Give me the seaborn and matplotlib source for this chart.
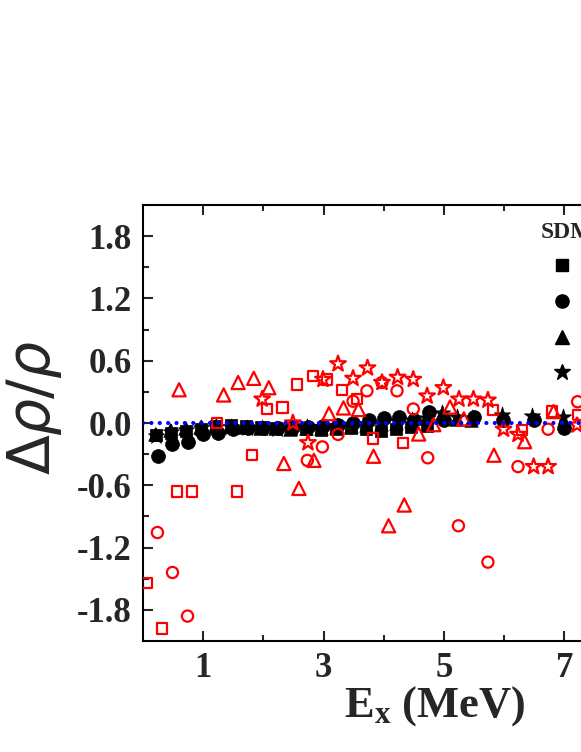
import matplotlib
matplotlib.use("Agg")
import matplotlib.pyplot as plt
import seaborn as sns
from matplotlib.lines import Line2D
from matplotlib.ticker import FixedLocator, FixedFormatter

# ---- SDM (black, filled) ----
sq_x = [0.21, 0.46, 0.71, 0.96, 1.21, 1.46, 1.71, 1.96, 2.21, 2.46, 2.71, 2.96,
        3.21, 3.46, 3.71, 3.96, 4.21, 4.46, 4.71]
sq_y = [-0.12, -0.10, -0.08, -0.06, -0.03, -0.02, -0.03, -0.04, -0.05, -0.05, -0.06, -0.07,
        -0.06, -0.05, -0.06, -0.08, -0.06, -0.04, -0.03]

ci_x = [0.25, 0.49, 0.74, 1.0, 1.24, 1.49, 1.74, 1.99, 2.24, 2.49, 2.74, 2.99,
        3.24, 3.49, 3.75, 4.0, 4.25, 4.5, 4.75, 5.0, 5.5, 5.98, 6.49, 6.99]
ci_y = [-0.32, -0.20, -0.18, -0.11, -0.10, -0.06, -0.05, -0.05, -0.05, -0.04, -0.04, -0.03,
        -0.02, 0.0, 0.03, 0.05, 0.06, 0.03, 0.11, 0.03, 0.06, 0.03, 0.03, -0.05]

tr_x = [0.2, 0.45, 0.7, 0.95, 1.2, 1.45, 1.7, 1.95, 2.2, 2.45, 2.7, 2.95,
        3.2, 3.45, 3.7, 3.95, 4.2, 4.45, 4.7, 4.95, 5.2, 5.45]
tr_y = [-0.11, -0.07, -0.05, -0.04, -0.03, -0.03, -0.04, -0.05, -0.05, -0.06, -0.05, -0.05,
        -0.04, -0.03, -0.02, -0.01, 0.0, 0.02, 0.05, 0.08, 0.04, 0.03]

st_x = [0.22, 0.47, 0.72, 0.97, 1.22, 1.47, 1.72, 1.97, 2.22, 2.47, 2.72, 2.97, 3.22,
        3.47, 3.72, 3.97, 4.22, 4.47, 4.72, 4.97, 5.22, 5.47, 5.97, 6.47, 6.97]
st_y = [-0.13, -0.09, -0.07, -0.05, -0.04, -0.04, -0.05, -0.05, -0.06, -0.05, -0.04, -0.04, -0.03,
        -0.02, -0.01, 0.0, 0.02, 0.03, 0.05, 0.10, 0.06, 0.05, 0.08, 0.07, 0.06]

# ---- other model (red, open) ----
rsq_x = [0.07, 0.32, 0.57, 0.82, 1.23, 1.56, 1.81, 2.06, 2.32, 2.56, 2.82, 3.06,
         3.31, 3.56, 3.82, 4.32, 5.82, 6.30, 6.80, 7.23]
rsq_y = [-1.54, -1.98, -0.66, -0.66, 0.0, -0.66, -0.31, 0.135, 0.15, 0.37, 0.45, 0.42,
         0.32, 0.23, -0.15, -0.19, 0.125, -0.07, 0.11, 0.08]

rci_x = [0.24, 0.49, 0.74, 2.73, 2.98, 3.24, 3.49, 3.72, 3.97, 4.22, 4.49, 4.73,
         5.24, 5.73, 6.23, 6.73, 7.22]
rci_y = [-1.055, -1.44, -1.86, -0.36, -0.23, -0.11, 0.21, 0.31, 0.39, 0.31, 0.135, -0.335,
         -0.99, -1.34, -0.42, -0.06, 0.205]

rtr_x = [0.6, 1.34, 1.58, 1.84, 2.09, 2.34, 2.59, 2.84, 3.09, 3.33, 3.58, 3.83,
         4.08, 4.34, 4.58, 4.83, 5.10, 5.33, 5.83, 6.34, 6.82]
rtr_y = [0.32, 0.27, 0.39, 0.43, 0.34, -0.39, -0.63, -0.36, 0.09, 0.145, 0.13, -0.32,
         -0.99, -0.79, -0.106, -0.016, 0.154, 0.04, -0.31, -0.18, 0.11]

rst_x = [1.98, 2.49, 2.74, 2.99, 3.24, 3.49, 3.73, 3.97, 4.23, 4.49, 4.72, 4.99,
         5.25, 5.49, 5.73, 5.99, 6.23, 6.49, 6.73, 7.21]
rst_y = [0.23, 0.0, -0.19, 0.42, 0.57, 0.43, 0.53, 0.39, 0.44, 0.42, 0.26, 0.34,
         0.23, 0.23, 0.22, -0.06, -0.11, -0.42, -0.42, -0.02]

x_ticks = [1, 3, 5, 7]
x_ticklabels = ["1", "3", "5", "7"]
y_ticks = [-1.8, -1.2, -0.6, 0.0, 0.6, 1.2, 1.8]
y_ticklabels = ["-1.8", "-1.2", "-0.6", "0.0", "0.6", "1.2", "1.8"]
legend_labels = ["(I)", "(II)", "(III)", "(IV)"]

sns.set_style("ticks")
plt.rcParams["font.family"] = ["Liberation Serif", "DejaVu Sans"]
plt.rcParams["font.weight"] = "bold"
plt.rcParams["axes.unicode_minus"] = False
plt.rcParams["mathtext.fontset"] = "custom"
plt.rcParams["mathtext.rm"] = "DejaVu Sans:weight=normal"
plt.rcParams["mathtext.it"] = "DejaVu Sans:style=italic:weight=normal"
plt.rcParams["mathtext.bf"] = "Liberation Serif:weight=bold"

fig = plt.figure(figsize=(5.81, 7.52), dpi=100)
ax = fig.add_axes([0.2461, 0.1476, 1.005, 0.5798])

# black filled
sns.scatterplot(x=sq_x, y=sq_y, marker="s", color="black", edgecolor="black",
                linewidth=0.5, s=85, ax=ax, zorder=2)
sns.scatterplot(x=tr_x, y=tr_y, marker="^", color="black", edgecolor="black",
                linewidth=0.5, s=95, ax=ax, zorder=2)
sns.scatterplot(x=st_x, y=st_y, marker="*", color="black", edgecolor="black",
                linewidth=0.5, s=150, ax=ax, zorder=2)
sns.scatterplot(x=ci_x, y=ci_y, marker="o", color="black", edgecolor="black",
                linewidth=0.5, s=100, ax=ax, zorder=2)

# red open
sns.scatterplot(x=rsq_x, y=rsq_y, marker="s", facecolor="none", edgecolor="red",
                linewidth=1.6, s=55, ax=ax, zorder=3)
sns.scatterplot(x=rci_x, y=rci_y, marker="o", facecolor="none", edgecolor="red",
                linewidth=1.6, s=65, ax=ax, zorder=3)
sns.scatterplot(x=rtr_x, y=rtr_y, marker="^", facecolor="none", edgecolor="red",
                linewidth=1.6, s=90, ax=ax, zorder=3)
sns.scatterplot(x=rst_x, y=rst_y, marker="*", facecolor="none", edgecolor="red",
                linewidth=1.6, s=140, ax=ax, zorder=3)

ax.axhline(0, color="blue", lw=3, linestyle=(0, (0.01, 2.0)),
           dash_capstyle="round", zorder=4)

ax.set_xlim(0, 9.7)
ax.set_ylim(-2.1, 2.1)
ax.xaxis.set_major_locator(FixedLocator(x_ticks))
ax.xaxis.set_major_formatter(FixedFormatter(x_ticklabels))
ax.xaxis.set_minor_locator(FixedLocator([2, 4, 6, 8]))
ax.yaxis.set_major_locator(FixedLocator(y_ticks))
ax.yaxis.set_major_formatter(FixedFormatter(y_ticklabels))
ax.yaxis.set_minor_locator(FixedLocator([-1.5, -0.9, -0.3, 0.3, 0.9, 1.5]))

ax.tick_params(which="both", direction="in", top=True, right=True, width=1.5)
ax.tick_params(which="major", length=7, labelsize=25, pad=8)
ax.tick_params(which="minor", length=4)
for sp in ax.spines.values():
    sp.set_linewidth(1.5)
    sp.set_color("black")

ax.set_xlabel(r"$\mathbf{E_x}$ (MeV)", fontsize=32, fontweight="bold", labelpad=-1)
ax.set_ylabel(r"$\Delta\rho/\rho$", fontsize=42, fontweight="normal")
ax.yaxis.set_label_coords(-0.135, 0.535)

handles = [Line2D([], [], ls="none", marker=m, color="black", ms=ms)
           for m, ms in zip(["s", "o", "^", "*"], [9, 9.5, 10, 12])]
leg = ax.legend(handles, legend_labels, title="SDM", loc="upper left",
                bbox_to_anchor=(0.681, 0.962), frameon=False, alignment="left",
                handlelength=1.9, labelspacing=0.68, fontsize=16, borderpad=0,
                borderaxespad=0)
leg.get_title().set_fontsize(17)
leg.get_title().set_fontweight("bold")

fig.savefig("out.png", dpi=100)
